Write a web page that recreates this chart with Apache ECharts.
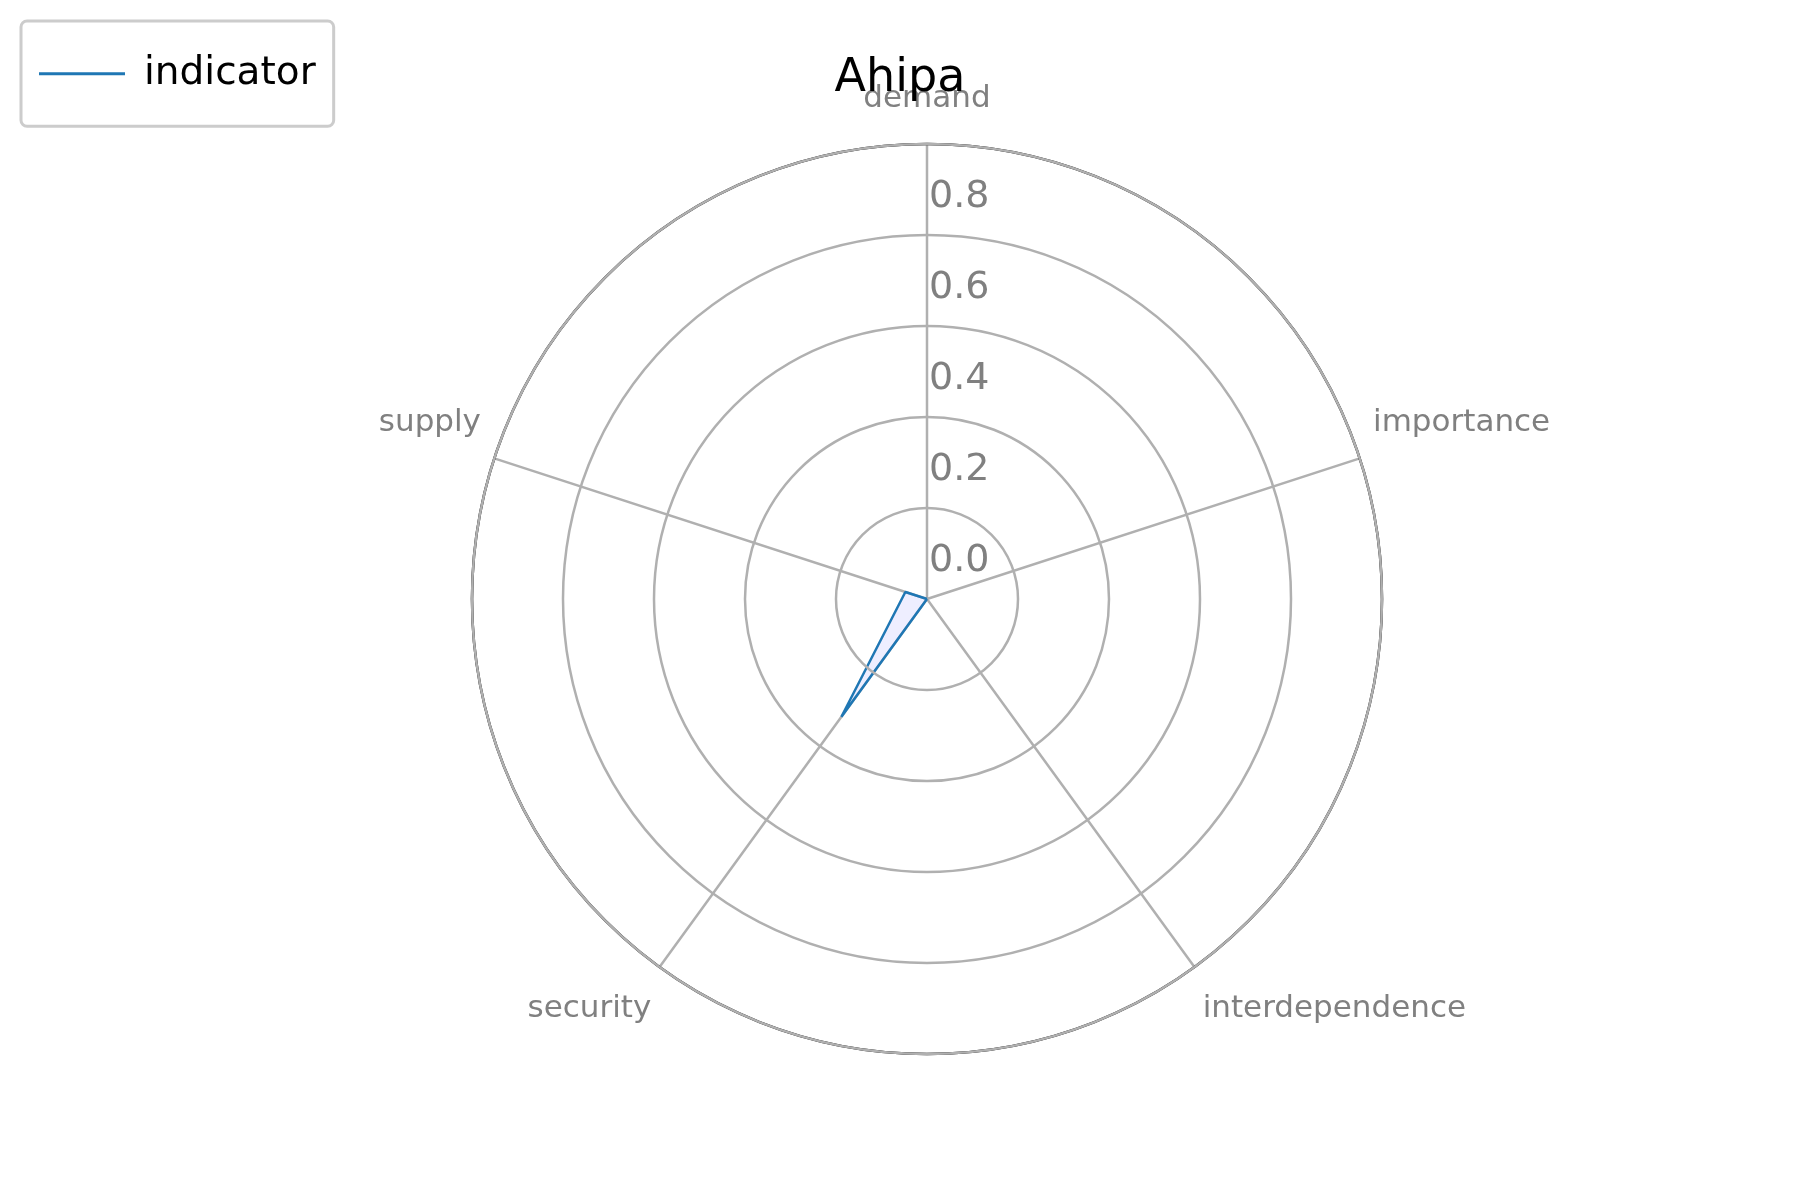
<!DOCTYPE html>
<html>
<head>
<title>Ahipa</title>
</head>
<body style="margin:0">
<div id="main" style="width:1800px;height:1200px;"></div>
<script src="https://cdn.jsdelivr.net/npm/echarts@6/dist/echarts.min.js"></script>
<script>
var categories = ['demand', 'importance', 'interdependence', 'security', 'supply'];
var values = [0, 0, 0, 0.32, 0.05];
var ringLabels = ['0.0', '0.2', '0.4', '0.6', '0.8'];

var step = 360 / categories.length;
var points = values.map(function (v, i) { return [v, i * step]; });
points.push([values[0], 360]); // close the shape

var chart = echarts.init(document.getElementById('main'));
chart.setOption({
	backgroundColor: '#fff',
	title: {
		text: 'Ahipa', left: 'center', top: 28,
		textStyle: { fontFamily: 'DejaVu Sans', fontWeight: 'normal', fontSize: 46, color: '#000' }
	},
	legend: {
		left: 21, top: 21, padding: [14, 18], itemGap: 10,
		borderColor: '#ccc', borderWidth: 3, borderRadius: 6,
		itemWidth: 86, itemHeight: 3, icon: 'rect',
		textStyle: { fontFamily: 'DejaVu Sans', fontSize: 39, color: '#000', padding: [0, 0, 0, 14] },
		data: ['indicator']
	},
	polar: { center: [927, 599], radius: 455 },
	angleAxis: {
		type: 'value', min: 0, max: 360, interval: step, startAngle: 90, clockwise: true,
		axisLine: { lineStyle: { color: '#000', width: 2.5 } },
		axisTick: { show: false },
		splitLine: { lineStyle: { color: '#b0b0b0', width: 2.5 } },
		axisLabel: {
			margin: 14, color: '#808080', fontFamily: 'DejaVu Sans', fontSize: 31,
			formatter: function (v) { var i = Math.round(v / step); return i < categories.length ? categories[i] : ''; }
		}
	},
	radiusAxis: {
		min: 0, max: 1.0, interval: 0.2,
		axisLine: { show: false },
		axisTick: { show: false },
		splitLine: { lineStyle: { color: '#b0b0b0', width: 2.5 } },
		axisLabel: {
			color: '#808080', fontFamily: 'DejaVu Sans', fontSize: 38, margin: -2,
			align: 'left', verticalAlign: 'bottom', showMinLabel: true,
			formatter: function (v) {
				var s = v.toFixed(1);
				return ringLabels.indexOf(s) >= 0 ? s : '';
			}
		},
		z: 5
	},
	series: [{
		name: 'indicator', type: 'line', coordinateSystem: 'polar',
		data: points, symbol: 'none', smooth: false,
		lineStyle: { color: '#1f77b4', width: 2.5 },
		itemStyle: { color: '#1f77b4' },
		areaStyle: { color: 'rgba(200,200,255,0.45)', origin: 'start' }
	}]
});
</script>
</body>
</html>
